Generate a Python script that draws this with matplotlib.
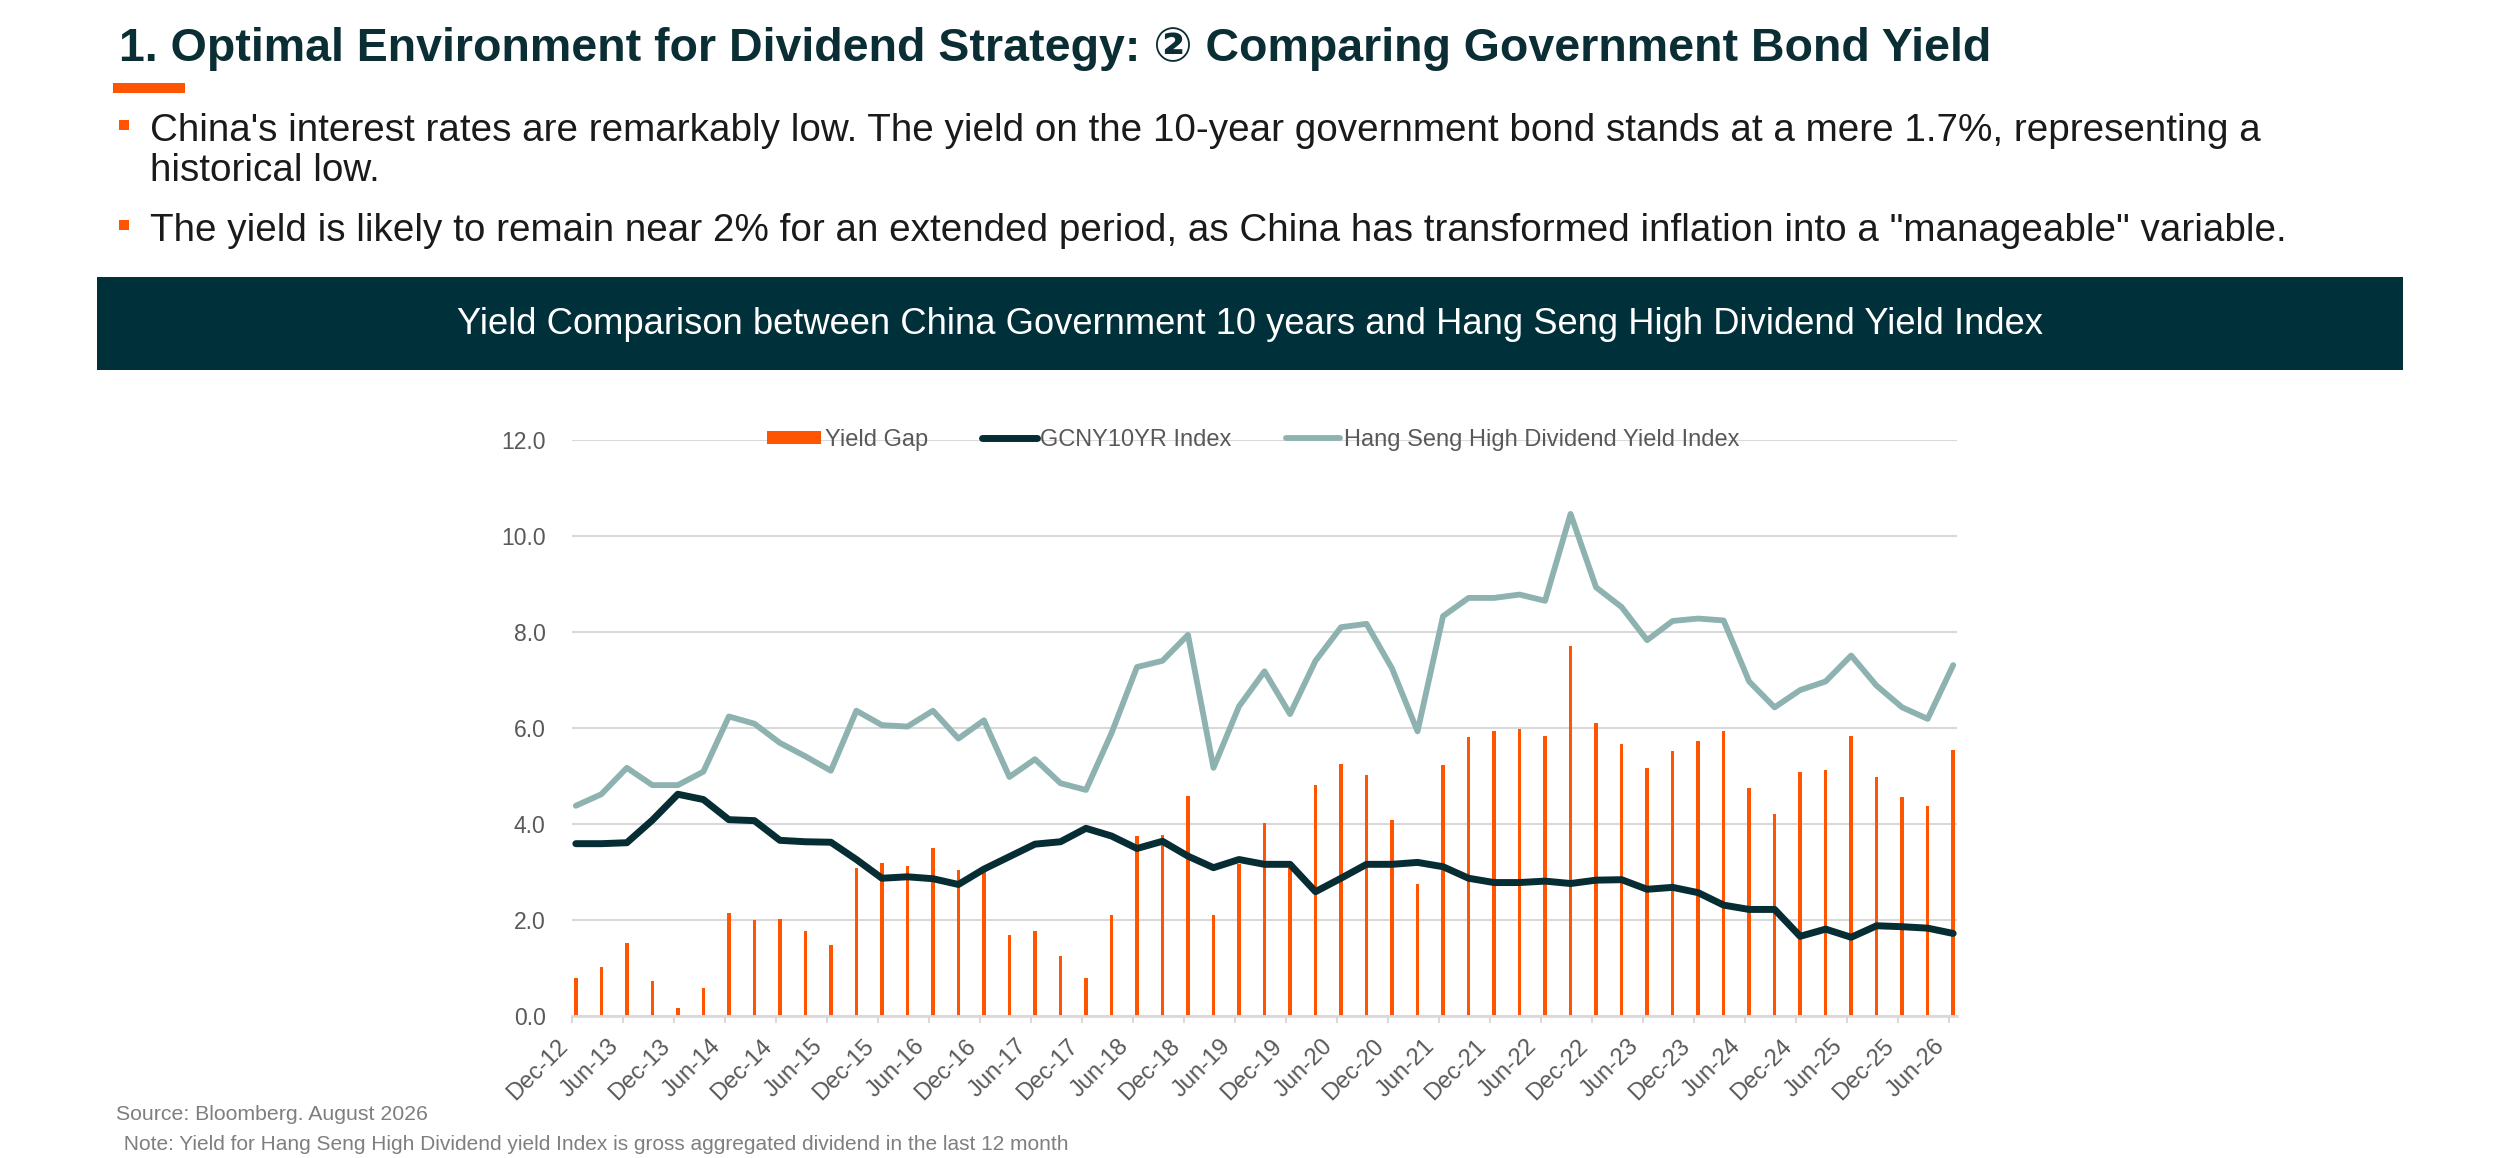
import numpy as np
import pandas as pd
import matplotlib
matplotlib.use("Agg")
from matplotlib import pyplot as plt
from matplotlib.patches import Rectangle

plt.rcParams['font.family'] = ['Liberation Sans', 'DejaVu Sans']

# quarterly observations, Dec-12 .. Jun-26
dates = pd.date_range("2012-12-31", "2026-06-30", freq="QE")

yield_gap = [0.80, 1.03, 1.53, 0.72, 0.17, 0.59, 2.14, 2.00, 2.03, 1.77,
             1.48, 3.08, 3.19, 3.13, 3.49, 3.04, 3.03, 1.68, 1.77, 1.24,
             0.79, 2.11, 3.76, 3.78, 4.59, 2.11, 3.17, 4.03, 3.09, 4.81,
             5.24, 5.03, 4.08, 2.76, 5.22, 5.82, 5.93, 5.97, 5.84, 7.70,
             6.10, 5.67, 5.17, 5.53, 5.72, 5.93, 4.75, 4.21, 5.09, 5.13,
             5.83, 4.98, 4.57, 4.38, 5.54]

gcny10 = [3.59, 3.59, 3.61, 4.08, 4.62, 4.51, 4.09, 4.07, 3.66, 3.63,
          3.62, 3.26, 2.87, 2.90, 2.86, 2.74, 3.06, 3.32, 3.58, 3.63,
          3.91, 3.75, 3.49, 3.64, 3.33, 3.09, 3.26, 3.16, 3.16, 2.59,
          2.87, 3.16, 3.16, 3.20, 3.11, 2.87, 2.78, 2.78, 2.81, 2.76,
          2.83, 2.84, 2.64, 2.68, 2.57, 2.31, 2.22, 2.22, 1.66, 1.81,
          1.64, 1.88, 1.86, 1.83, 1.72]

hs_div = [4.38, 4.62, 5.17, 4.81, 4.81, 5.09, 6.24, 6.09, 5.69, 5.41,
          5.11, 6.36, 6.06, 6.03, 6.36, 5.78, 6.16, 4.98, 5.35, 4.85,
          4.71, 5.89, 7.27, 7.40, 7.94, 5.17, 6.45, 7.18, 6.29, 7.40,
          8.10, 8.17, 7.24, 5.93, 8.33, 8.71, 8.71, 8.78, 8.65, 10.46,
          8.93, 8.52, 7.83, 8.23, 8.28, 8.24, 6.97, 6.43, 6.79, 6.97,
          7.51, 6.88, 6.43, 6.19, 7.31]

ORANGE = '#FF5500'
DARK = '#062D33'
TEAL = '#8DB2B0'
GREY = '#595959'

W, H = 2500, 1158
fig = plt.figure(figsize=(W / 100, H / 100), dpi=100)

def fx(px):
    return px / W

def fy(px):
    return 1 - px / H

# header
fig.text(fx(119), fy(61), "1. Optimal Environment for Dividend Strategy: \u2461 Comparing Government Bond Yield",
         fontsize=33.5, fontweight='bold', color='#0B2E35', va='baseline',
         family=['Liberation Sans', 'DejaVu Sans'])
fig.patches.append(Rectangle((fx(113), fy(93)), fx(72), 10 / H, transform=fig.transFigure,
                             color=ORANGE, lw=0))

bullets = [(141, "China's interest rates are remarkably low. The yield on the 10-year government bond stands at a mere 1.7%, representing a", 125),
           (181, "historical low.", None),
           (241, 'The yield is likely to remain near 2% for an extended period, as China has transformed inflation into a "manageable" variable.', 225)]
for base, txt, mark in bullets:
    fig.text(fx(150), fy(base), txt, fontsize=27.8, color='#1A1A1A', va='baseline')
    if mark is not None:
        fig.patches.append(Rectangle((fx(119), fy(mark + 5)), fx(10), 10 / H,
                                     transform=fig.transFigure, color=ORANGE, lw=0))

# banner
fig.patches.append(Rectangle((fx(97), fy(370)), fx(2306), 93 / H, transform=fig.transFigure,
                             color='#00303A', lw=0))
fig.text(0.5, fy(324), "Yield Comparison between China Government 10 years and Hang Seng High Dividend Yield Index",
         fontsize=26.2, color='white', ha='center', va='center')

# chart
ax = fig.add_axes([fx(572), fy(1016), fx(1957 - 572), (1016 - 440) / H])
x = np.arange(len(dates))
bars = ax.bar(x, yield_gap, width=0.14, color=ORANGE, label='Yield Gap', zorder=2)
l1, = ax.plot(x, gcny10, color=DARK, lw=5, label='GCNY10YR Index', zorder=3, solid_capstyle='round')
l2, = ax.plot(x, hs_div, color=TEAL, lw=4.2, label='Hang Seng High Dividend Yield Index', zorder=3,
              solid_capstyle='round')

ax.set_ylim(0, 12)
ax.set_yticks(np.arange(0, 12.1, 2))
ax.set_yticklabels([f"{v:.1f}" for v in np.arange(0, 12.1, 2)])
ax.set_xlim(-0.15, len(dates) - 1 + 0.15)
tick_idx = x[::2]
ax.set_xticks(tick_idx - 0.15)
ax.set_xticklabels([d.strftime('%b-%y') for d in dates[::2]], rotation=45, ha='right')

ax.grid(axis='y', color='#D9D9D9', lw=1.5, zorder=0)
ax.set_axisbelow(True)
for s in ['top', 'right', 'left']:
    ax.spines[s].set_visible(False)
ax.spines['bottom'].set_color('#D9D9D9')
ax.spines['bottom'].set_linewidth(2)
ax.tick_params(axis='y', length=0, pad=19, labelsize=16.5, labelcolor=GREY)
ax.tick_params(axis='x', length=5, width=1.5, color='#D9D9D9', pad=9, labelsize=17, labelcolor=GREY)

ax.legend([bars, l1, l2], ['Yield Gap', 'GCNY10YR Index', 'Hang Seng High Dividend Yield Index'],
          loc='center', bbox_to_anchor=(0.4917, 1.0), ncol=3, frameon=False, fontsize=17,
          labelcolor=GREY, handlelength=2.3, handletextpad=0.15, columnspacing=2.3,
          handleheight=0.5)

fig.text(fx(116), fy(1120), "Source: Bloomberg. August 2026", fontsize=15.3, color='#7F7F7F', va='baseline')
fig.text(fx(118), fy(1150), " Note: Yield for Hang Seng High Dividend yield Index is gross aggregated dividend in the last 12 month",
         fontsize=15, color='#7F7F7F', va='baseline')

fig.savefig("out.png", dpi=100)
